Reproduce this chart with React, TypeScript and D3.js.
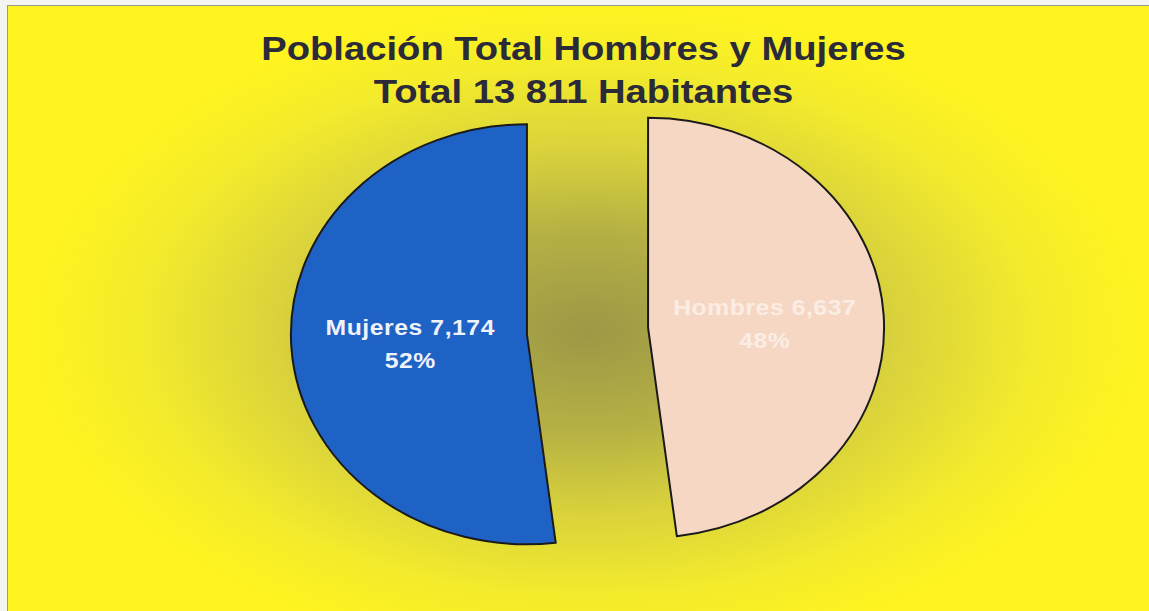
import React from "react";
import * as d3 from "d3";

const titleLines = ["Población Total Hombres y Mujeres", "Total 13 811 Habitantes"];
const categories = ["Hombres", "Mujeres"];
const values = [6637, 7174];
const colors = ["#F6D7C4", "#1F62C6"];
const labelColors = ["#FBEDE4", "#EEF2FA"];

const W = 1149;
const H = 611;
const cx = 587.5;
const cy = 331;
const R = 210;
const SX = 236 / 210;
const EXPLODE = 54;
const LABEL_R = 104;
const FONT = "'Liberation Sans', Arial, Helvetica, sans-serif";

export default function App() {
  const total = d3.sum(values);
  const pie = d3
    .pie<number>()
    .sort(null)
    .value((d) => d)
    .startAngle(0)
    .endAngle(2 * Math.PI);
  const arcs = pie(values);
  const arc = d3.arc<d3.PieArcDatum<number>>().innerRadius(0).outerRadius(R);
  const labelArc = d3
    .arc<d3.PieArcDatum<number>>()
    .innerRadius(LABEL_R)
    .outerRadius(LABEL_R);
  const fmt = d3.format(",");

  return (
    <svg
      width={W}
      height={H}
      style={{ position: "absolute", left: 0, top: 0, display: "block" }}
    >
      <defs>
        <radialGradient
          id="bg"
          gradientUnits="userSpaceOnUse"
          cx={0}
          cy={0}
          r={1}
          gradientTransform={`translate(${cx},${cy}) scale(560,330)`}
        >
          <stop offset="0" stopColor="#9C9846" />
          <stop offset="0.3" stopColor="#B5B044" />
          <stop offset="0.55" stopColor="#D9D23C" />
          <stop offset="0.8" stopColor="#F3EB2C" />
          <stop offset="1" stopColor="#FFF41F" />
        </radialGradient>
      </defs>
      <rect x={0} y={0} width={W} height={H} fill="#F4F4F2" />
      <rect x={7.5} y={5.5} width={W} height={H} fill="url(#bg)" stroke="#9A9A90" strokeWidth={1} />

      {titleLines.map((t, i) => (
        <g key={i} transform={`translate(583.5,${60 + i * 43}) scale(${SX},1)`}>
          <text
            textAnchor="middle"
            fontFamily={FONT}
            fontWeight="bold"
            fontSize={34}
            fill="#2A2A38"
          >
            {t}
          </text>
        </g>
      ))}

      {arcs.map((a, i) => {
        const mid = (a.startAngle + a.endAngle) / 2;
        const ox = Math.sin(mid) * EXPLODE;
        const oy = -Math.cos(mid) * EXPLODE;
        const [lx, ly] = labelArc.centroid(a);
        const pct = Math.round((values[i] / total) * 100);
        const sx = cx + (ox + lx) * SX;
        const sy = cy + oy + ly;
        return (
          <g key={categories[i]}>
            <g transform={`translate(${cx + ox * SX},${cy + oy}) scale(${SX},1)`}>
              <path
                d={arc(a) || ""}
                fill={colors[i]}
                stroke="#1A1A1A"
                strokeWidth={2}
                vectorEffect="non-scaling-stroke"
                strokeLinejoin="miter"
              />
            </g>
            <g transform={`translate(${sx},${sy}) scale(${SX},1)`}>
              <text
                textAnchor="middle"
                fontFamily={FONT}
                fontWeight="bold"
                fontSize={22}
                fill={labelColors[i]}
                letterSpacing={0.5}
              >
                <tspan x={0} y={-6}>
                  {`${categories[i]} ${fmt(values[i])}`}
                </tspan>
                <tspan x={0} y={27}>
                  {`${pct}%`}
                </tspan>
              </text>
            </g>
          </g>
        );
      })}
    </svg>
  );
}
